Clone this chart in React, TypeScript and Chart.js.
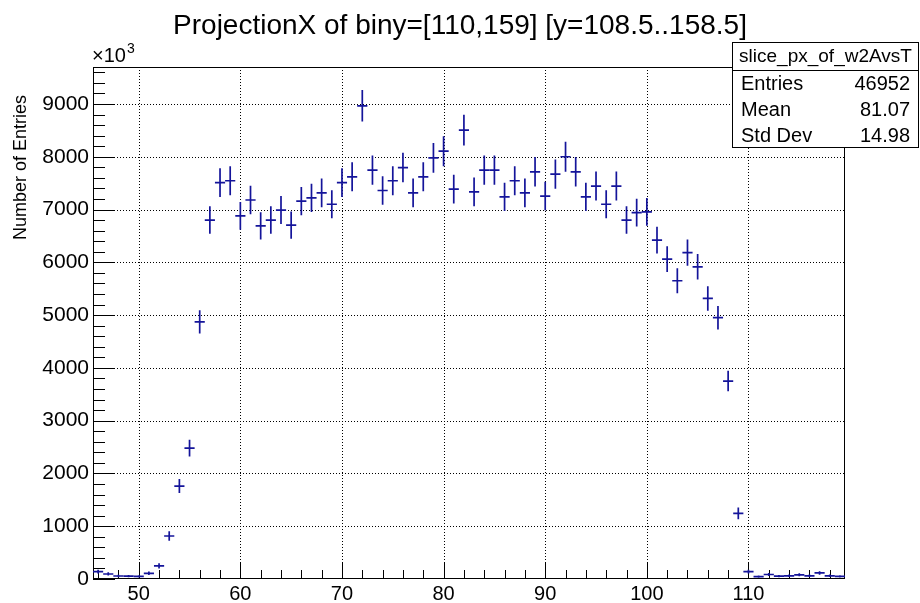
import React, { useEffect, useRef } from "react";
import { Chart, registerables } from "chart.js";

Chart.register(...registerables);

// ---- data ----
const binCenters = [
  46, 47, 48, 49, 50, 51, 52, 53, 54, 55, 56, 57, 58, 59, 60, 61, 62, 63, 64, 65,
  66, 67, 68, 69, 70, 71, 72, 73, 74, 75, 76, 77, 78, 79, 80, 81, 82, 83, 84, 85,
  86, 87, 88, 89, 90, 91, 92, 93, 94, 95, 96, 97, 98, 99, 100, 101, 102, 103, 104, 105,
  106, 107, 108, 109, 110, 111, 112, 113, 114, 115, 116, 117, 118, 119,
];
const counts = [
  140, 95, 57, 55, 50, 108, 250, 815, 1760, 2480, 4870, 6800, 7510, 7545, 6880, 7180, 6690, 6800, 6990, 6705,
  7160, 7220, 7315, 7100, 7510, 7620, 8965, 7745, 7360, 7545, 7795, 7315, 7620, 7980, 8105, 7385, 8505, 7335, 7745, 7745,
  7240, 7545, 7315, 7715, 7255, 7670, 8000, 7715, 7240, 7445, 7100, 7445, 6800, 6940, 6955, 6420, 6060, 5650, 6185, 5915,
  5315, 4950, 3750, 1245, 140, 45, 85, 55, 60, 80, 60, 115, 60, 50,
];
const errors = [
  37, 31, 24, 23, 22, 33, 50, 90, 133, 157, 221, 261, 274, 275, 262, 268, 259, 261, 264, 259,
  268, 269, 271, 266, 274, 276, 299, 278, 271, 275, 279, 271, 276, 282, 285, 272, 292, 271, 278, 278,
  269, 275, 271, 278, 269, 277, 283, 278, 269, 273, 266, 273, 261, 263, 264, 253, 246, 238, 249, 243,
  231, 222, 194, 111, 37, 21, 29, 23, 24, 28, 24, 34, 24, 22,
];

const xMajorTicks = [50, 60, 70, 80, 90, 100, 110];
const xTickValues = [
  46, 48, 50, 52, 54, 56, 58, 60, 62, 64, 66, 68, 70, 72, 74, 76, 78, 80, 82, 84, 86, 88,
  90, 92, 94, 96, 98, 100, 102, 104, 106, 108, 110, 112, 114, 116, 118,
];
const yMajorTicks = [0, 1000, 2000, 3000, 4000, 5000, 6000, 7000, 8000, 9000];
const yTickValues = [
  0, 200, 400, 600, 800, 1000, 1200, 1400, 1600, 1800, 2000, 2200, 2400, 2600, 2800,
  3000, 3200, 3400, 3600, 3800, 4000, 4200, 4400, 4600, 4800, 5000, 5200, 5400, 5600, 5800,
  6000, 6200, 6400, 6600, 6800, 7000, 7200, 7400, 7600, 7800, 8000, 8200, 8400, 8600, 8800,
  9000, 9200, 9400, 9600,
];

const titleText = "ProjectionX of biny=[110,159] [y=108.5..158.5]";
const yAxisTitle = "Number of Entries";
const statsName = "slice_px_of_w2AvsT";
const statsLabels = ["Entries", "Mean", "Std Dev"];
const statsValues = ["46952", "81.07", "14.98"];

const FONT = "'Liberation Sans', Arial, Helvetica, sans-serif";
const MARKER = "#14149a";

const rootPlugin = {
  id: "rootStyle",
  beforeDatasetsDraw(chart: any) {
    const { ctx, chartArea: a } = chart;
    const x = chart.scales.x;
    const y = chart.scales.y;
    ctx.save();
    // dotted grid
    ctx.strokeStyle = "#000";
    ctx.lineWidth = 1;
    ctx.setLineDash([1, 2]);
    xMajorTicks.forEach((v) => {
      const px = Math.round(x.getPixelForValue(v)) + 0.5;
      ctx.beginPath();
      ctx.moveTo(px, a.top);
      ctx.lineTo(px, a.bottom);
      ctx.stroke();
    });
    yMajorTicks.forEach((v) => {
      if (v === 0) return;
      const py = Math.round(y.getPixelForValue(v)) + 0.5;
      ctx.beginPath();
      ctx.moveTo(a.left, py);
      ctx.lineTo(a.right, py);
      ctx.stroke();
    });
    ctx.setLineDash([]);
    // tick marks (inside)
    ctx.strokeStyle = "#000";
    x.ticks.forEach((t: any) => {
      const major = xMajorTicks.includes(t.value);
      const len = major ? 17 : 9;
      const px = Math.round(x.getPixelForValue(t.value)) + 0.5;
      ctx.beginPath();
      ctx.moveTo(px, a.bottom);
      ctx.lineTo(px, a.bottom - len);
      ctx.stroke();
    });
    y.ticks.forEach((t: any) => {
      const major = yMajorTicks.includes(t.value);
      const len = major ? 22 : 12;
      const py = Math.round(y.getPixelForValue(t.value)) + 0.5;
      ctx.beginPath();
      ctx.moveTo(a.left, py);
      ctx.lineTo(a.left + len, py);
      ctx.stroke();
    });
    // frame
    ctx.strokeStyle = "#000";
    ctx.lineWidth = 1;
    ctx.strokeRect(a.left + 0.5, a.top + 0.5, a.right - a.left - 1, a.bottom - a.top - 1);
    ctx.restore();
  },
  afterDatasetsDraw(chart: any) {
    const { ctx, chartArea: a } = chart;
    const x = chart.scales.x;
    const y = chart.scales.y;
    ctx.save();
    ctx.beginPath();
    ctx.rect(a.left, a.top, a.right - a.left, a.bottom - a.top);
    ctx.clip();
    ctx.strokeStyle = MARKER;
    ctx.lineWidth = 1.7;
    binCenters.forEach((b, i) => {
      const px = x.getPixelForValue(b);
      const pl = x.getPixelForValue(b - 0.5);
      const pr = x.getPixelForValue(b + 0.5);
      const py = y.getPixelForValue(counts[i]);
      const pt = y.getPixelForValue(counts[i] + errors[i]);
      const pb = y.getPixelForValue(Math.max(0, counts[i] - errors[i]));
      ctx.beginPath();
      ctx.moveTo(pl, py);
      ctx.lineTo(pr, py);
      ctx.moveTo(px, pt);
      ctx.lineTo(px, pb);
      ctx.stroke();
    });
    ctx.restore();
  },
  afterDraw(chart: any) {
    const { ctx, chartArea: a } = chart;
    ctx.save();
    ctx.fillStyle = "#000";
    // title
    ctx.font = `28px ${FONT}`;
    ctx.textAlign = "center";
    ctx.textBaseline = "alphabetic";
    ctx.fillText(titleText, chart.width / 2, 34);
    // x10^3
    ctx.textAlign = "left";
    ctx.font = `20px ${FONT}`;
    ctx.fillText("\u00d710", a.left - 1, 62);
    const w = ctx.measureText("\u00d710").width;
    ctx.font = `14px ${FONT}`;
    ctx.fillText("3", a.left - 1 + w + 1, 53);
    // y-axis title
    ctx.save();
    ctx.translate(26, 95);
    ctx.rotate(-Math.PI / 2);
    ctx.font = `18px ${FONT}`;
    ctx.textAlign = "right";
    ctx.fillText(yAxisTitle, 0, 0);
    ctx.restore();
    // stats box
    const bx = 732.5, by = 42.5, bw = 186, bh = 105, sep = 70.5;
    ctx.fillStyle = "#fff";
    ctx.fillRect(bx, by, bw, bh);
    ctx.strokeStyle = "#000";
    ctx.lineWidth = 1;
    ctx.strokeRect(bx, by, bw, bh);
    ctx.beginPath();
    ctx.moveTo(bx, sep);
    ctx.lineTo(bx + bw, sep);
    ctx.stroke();
    ctx.fillStyle = "#000";
    ctx.font = `19px ${FONT}`;
    ctx.textBaseline = "middle";
    ctx.textAlign = "center";
    ctx.fillText(statsName, bx + bw / 2, 57);
    ctx.font = `20px ${FONT}`;
    const rowsY = [84, 110, 136];
    statsLabels.forEach((l, i) => {
      ctx.textAlign = "left";
      ctx.fillText(l, 741, rowsY[i]);
      ctx.textAlign = "right";
      ctx.fillText(statsValues[i], 910, rowsY[i]);
    });
    ctx.restore();
  },
};

export default function App() {
  const canvasRef = useRef<HTMLCanvasElement | null>(null);

  useEffect(() => {
    const canvas = canvasRef.current;
    if (!canvas) return;
    const chart = new Chart(canvas, {
      type: "scatter",
      data: {
        datasets: [
          {
            data: binCenters.map((b, i) => ({ x: b, y: counts[i] })),
            pointRadius: 0,
            pointHoverRadius: 0,
            showLine: false,
            borderColor: MARKER,
            backgroundColor: MARKER,
          },
        ],
      },
      options: {
        responsive: false,
        animation: false,
        devicePixelRatio: 1,
        events: [],
        layout: { padding: { left: 0, top: 67, right: 75, bottom: 0 } },
        plugins: {
          legend: { display: false },
          tooltip: { enabled: false },
          title: { display: false },
        },
        scales: {
          x: {
            type: "linear",
            min: 45.5,
            max: 119.5,
            grid: { display: false, drawTicks: false },
            border: { display: false },
            afterBuildTicks: (s: any) => {
              s.ticks = xTickValues.map((v) => ({ value: v }));
            },
            afterFit: (s: any) => {
              s.height = 24;
            },
            ticks: {
              autoSkip: false,
              maxRotation: 0,
              minRotation: 0,
              padding: 3,
              color: "#000",
              font: { family: FONT, size: 20 },
              callback: (v: any) => (xMajorTicks.includes(Number(v)) ? String(v) : ""),
            },
          },
          y: {
            type: "linear",
            min: 0,
            max: 9700,
            grid: { display: false, drawTicks: false },
            border: { display: false },
            afterBuildTicks: (s: any) => {
              s.ticks = yTickValues.map((v) => ({ value: v }));
            },
            afterFit: (s: any) => {
              s.width = 93;
            },
            ticks: {
              autoSkip: false,
              padding: 4,
              color: "#000",
              font: { family: FONT, size: 21 },
              callback: (v: any) => (yMajorTicks.includes(Number(v)) ? String(v) : ""),
            },
          },
        },
      },
      plugins: [rootPlugin],
    } as any);
    return () => chart.destroy();
  }, []);

  return (
    <div style={{ position: "absolute", left: 0, top: 0, width: 920, height: 603, background: "#fff" }}>
      <canvas ref={canvasRef} width={920} height={603} style={{ display: "block" }} />
    </div>
  );
}
